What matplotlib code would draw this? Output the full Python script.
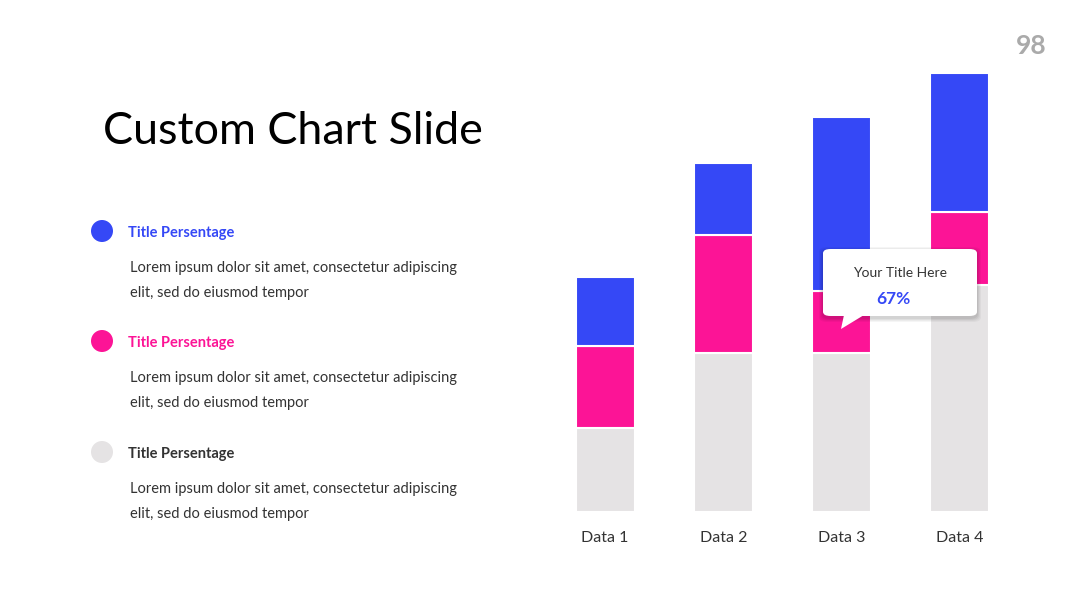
import matplotlib
matplotlib.use("Agg")
import matplotlib.pyplot as plt
from matplotlib.patches import FancyBboxPatch, Polygon, Ellipse
import numpy as np

plt.rcParams["font.family"] = ["Lato", "DejaVu Sans"]

W, H = 1080, 608

categories = ["Data 1", "Data 2", "Data 3", "Data 4"]
gray_vals = [18.4, 35.0, 35.0, 50.0]
pink_vals = [18.1, 25.9, 13.7, 15.9]
blue_vals = [15.2, 15.9, 38.2, 30.7]

legend_titles = ["Title Persentage", "Title Persentage", "Title Persentage"]
legend_body = "Lorem ipsum dolor sit amet, consectetur adipiscing\nelit, sed do eiusmod tempor"

BLUE = "#3548F6"
PINK = "#FC1496"
GRAY = "#E5E3E4"
DARK = "#333333"


def fx(px):
    return px / W


def fy(py):
    return 1 - py / H


fig = plt.figure(figsize=(W / 100, H / 100), dpi=100)
fig.patch.set_facecolor("white")

# chart
ax = fig.add_axes([fx(546), fy(512), fx(1019) - fx(546), (512 - 59) / H])
x = np.arange(len(categories))
bw = 0.50
gray = np.array(gray_vals)
pink = np.array(pink_vals)
blue = np.array(blue_vals)
ax.bar(x, gray, bw, color=GRAY, edgecolor="white", linewidth=1.5)
ax.bar(x, pink, bw, bottom=gray, color=PINK, edgecolor="white", linewidth=1.5)
ax.bar(x, blue, bw, bottom=gray + pink, color=BLUE, edgecolor="white", linewidth=1.5)
ax.set_xlim(-0.5, 3.5)
ax.set_ylim(0, 99.6)
ax.set_xticks(x)
ax.set_xticklabels(categories, fontsize=11.5, color=DARK)
ax.tick_params(axis="x", length=0, pad=14)
ax.set_yticks([])
for s in ax.spines.values():
    s.set_visible(False)

# title and page number
fig.text(fx(103), fy(131), "Custom Chart Slide", fontsize=32.3, color="black",
         ha="left", va="center")
fig.text(fx(1031), fy(46), "98", fontsize=19, color="#AAAAAA", fontweight="bold",
         ha="center", va="center")

# legend block
for i, (col, yy) in enumerate(zip([BLUE, PINK, GRAY], [231, 341, 452])):
    fig.patches.append(Ellipse((fx(102), fy(yy)), 22 / W, 22 / H, transform=fig.transFigure,
                               facecolor=col, edgecolor="none"))
    tcol = col if i < 2 else DARK
    fig.text(fx(128), fy(yy + 2), legend_titles[i], fontsize=10.5, fontweight="bold",
             color=tcol, ha="left", va="center")
    fig.text(fx(130), fy(yy + 49.5), legend_body, fontsize=10.5, color=DARK,
             ha="left", va="center", linespacing=2.05)

# tooltip with soft shadow
bx0, by0, bx1, by1 = 823, 249, 977, 316
for k, a in enumerate([0.04, 0.04, 0.05, 0.05]):
    off = 4 - k
    fig.patches.append(FancyBboxPatch((fx(bx0 - off), fy(by1 + off + 2)),
                                      fx(bx1 - bx0 + 2 * off), (by1 - by0 + 2 * off) / H,
                                      boxstyle="round,pad=0,rounding_size=0.008",
                                      transform=fig.transFigure, facecolor="black",
                                      edgecolor="none", alpha=a, zorder=5))
fig.patches.append(FancyBboxPatch((fx(bx0), fy(by1)), fx(bx1 - bx0), (by1 - by0) / H,
                                  boxstyle="round,pad=0,rounding_size=0.007",
                                  transform=fig.transFigure, facecolor="white",
                                  edgecolor="none", zorder=6))
fig.patches.append(Polygon([(fx(844), fy(315)), (fx(864), fy(315)), (fx(841), fy(329))],
                           closed=True, transform=fig.transFigure, facecolor="white",
                           edgecolor="none", zorder=7))
fig.text(fx(900), fy(273), "Your Title Here", fontsize=10, color=DARK,
         ha="center", va="center", zorder=8)
fig.text(fx(893), fy(299), "67%", fontsize=12.5, fontweight="bold", color=BLUE,
         ha="center", va="center", zorder=8)

fig.savefig("out.png", dpi=100, facecolor="white")
